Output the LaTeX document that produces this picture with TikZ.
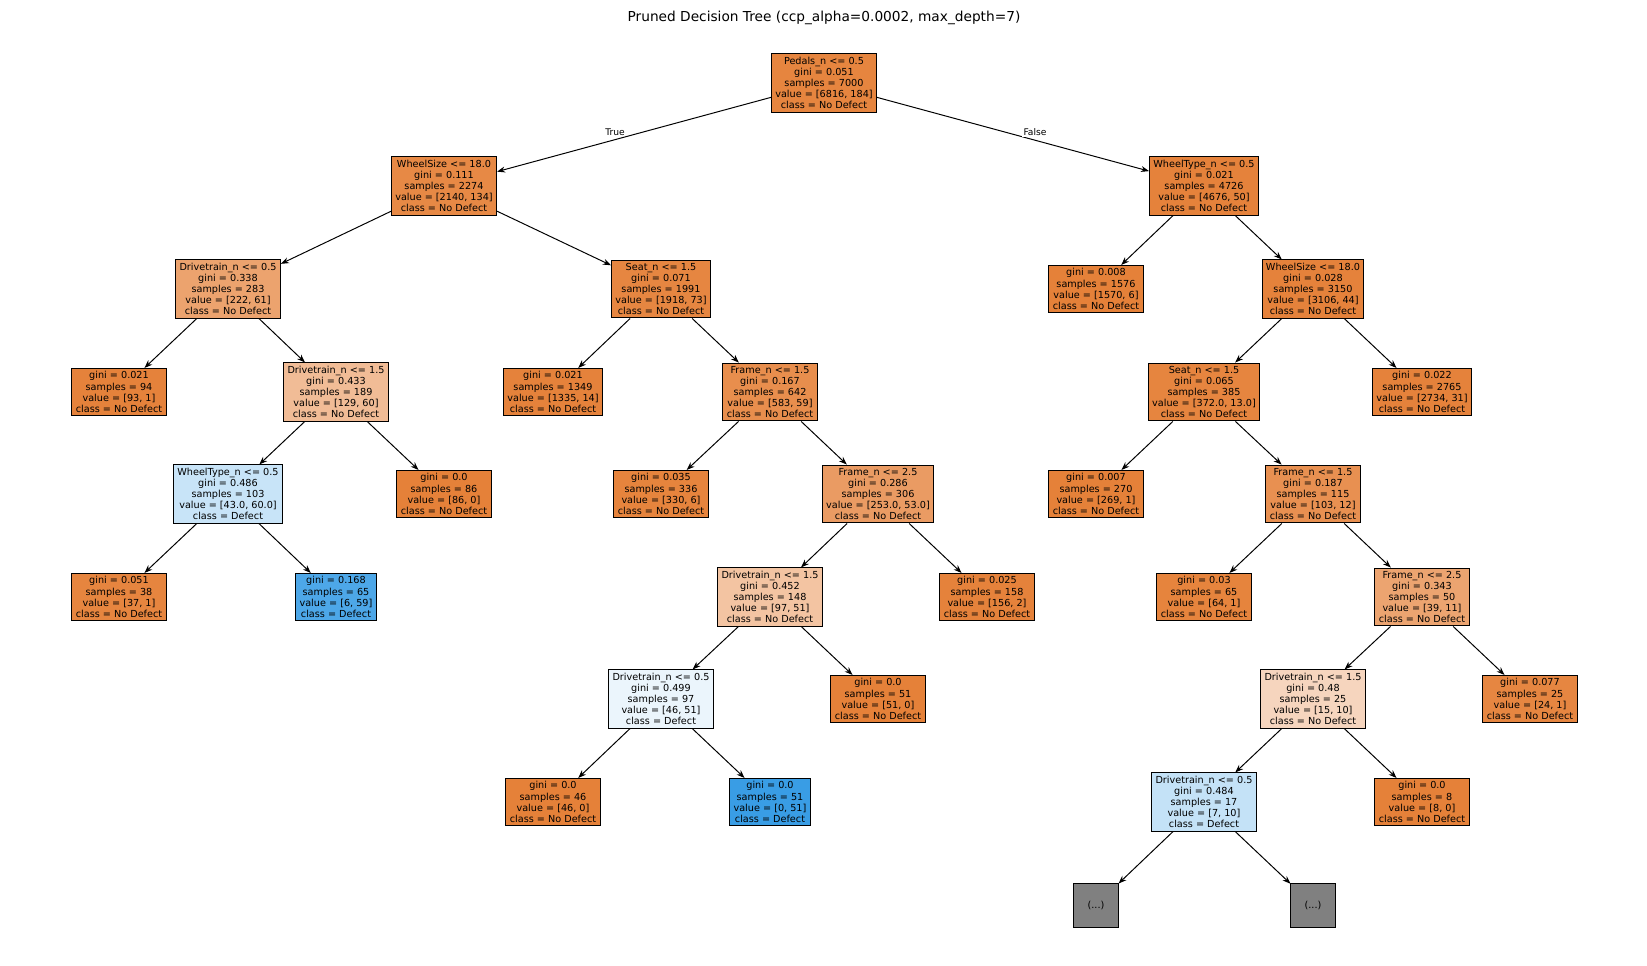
\documentclass[tikz,border=0pt]{standalone}
\usepackage{fontspec}
\setmainfont{DejaVu Sans}
\usetikzlibrary{arrows.meta}
\definecolor{dor}{RGB}{229,129,57}
\definecolor{dbl}{RGB}{57,157,229}
\begin{document}
\begin{tikzpicture}[x=0.01cm,y=-0.01cm,
  box/.style={draw=black,line width=0.28pt,align=center,font=\fontsize{2.75}{3.15}\selectfont,inner xsep=1.1pt,inner ysep=0.9pt},
  O/.style={box,fill=dor!#1!white},
  B/.style={box,fill=dbl!#1!white},
  G/.style={box,fill=black!50,minimum width=43\pgflinewidth,minimum height=0.12cm,text width=0.3cm},
  ed/.style={line width=0.28pt,-{Stealth[length=2.3pt,width=1.7pt]}},
  lab/.style={font=\fontsize{2.6}{3}\selectfont,fill=white,inner sep=0.3pt}]
\useasboundingbox (0,0) rectangle (1647,966);
\node[font=\fontsize{3.9}{4.5}\selectfont] at (824,18) {Pruned Decision Tree (ccp\_alpha=0.0002, max\_depth=7)};
\node[O=97] (r) at (824,83) {Pedals\_n <= 0.5\\gini = 0.051\\samples = 7000\\value = [6816, 184]\\class = No Defect};
\node[O=94] (a) at (444,186) {WheelSize <= 18.0\\gini = 0.111\\samples = 2274\\value = [2140, 134]\\class = No Defect};
\node[O=99] (b) at (1204,186) {WheelType\_n <= 0.5\\gini = 0.021\\samples = 4726\\value = [4676, 50]\\class = No Defect};
\node[O=73] (c) at (228,289) {Drivetrain\_n <= 0.5\\gini = 0.338\\samples = 283\\value = [222, 61]\\class = No Defect};
\node[O=96] (d) at (661,289) {Seat\_n <= 1.5\\gini = 0.071\\samples = 1991\\value = [1918, 73]\\class = No Defect};
\node[O=100] (e) at (1096,289) {gini = 0.008\\samples = 1576\\value = [1570, 6]\\class = No Defect};
\node[O=99] (f) at (1313,289) {WheelSize <= 18.0\\gini = 0.028\\samples = 3150\\value = [3106, 44]\\class = No Defect};
\node[O=99] (c1) at (119,392) {gini = 0.021\\samples = 94\\value = [93, 1]\\class = No Defect};
\node[O=53] (c2) at (336,392) {Drivetrain\_n <= 1.5\\gini = 0.433\\samples = 189\\value = [129, 60]\\class = No Defect};
\node[O=99] (d1) at (553,392) {gini = 0.021\\samples = 1349\\value = [1335, 14]\\class = No Defect};
\node[O=90] (d2) at (770,392) {Frame\_n <= 1.5\\gini = 0.167\\samples = 642\\value = [583, 59]\\class = No Defect};
\node[O=97] (f1) at (1204,392) {Seat\_n <= 1.5\\gini = 0.065\\samples = 385\\value = [372.0, 13.0]\\class = No Defect};
\node[O=99] (f2) at (1422,392) {gini = 0.022\\samples = 2765\\value = [2734, 31]\\class = No Defect};
\node[B=28] (c21) at (228,494) {WheelType\_n <= 0.5\\gini = 0.486\\samples = 103\\value = [43.0, 60.0]\\class = Defect};
\node[O=100] (c22) at (444,494) {gini = 0.0\\samples = 86\\value = [86, 0]\\class = No Defect};
\node[O=98] (d21) at (661,494) {gini = 0.035\\samples = 336\\value = [330, 6]\\class = No Defect};
\node[O=79] (d22) at (878,494) {Frame\_n <= 2.5\\gini = 0.286\\samples = 306\\value = [253.0, 53.0]\\class = No Defect};
\node[O=100] (f11) at (1096,494) {gini = 0.007\\samples = 270\\value = [269, 1]\\class = No Defect};
\node[O=88] (f12) at (1313,494) {Frame\_n <= 1.5\\gini = 0.187\\samples = 115\\value = [103, 12]\\class = No Defect};
\node[O=97] (g1) at (119,597) {gini = 0.051\\samples = 38\\value = [37, 1]\\class = No Defect};
\node[B=90] (g2) at (336,597) {gini = 0.168\\samples = 65\\value = [6, 59]\\class = Defect};
\node[O=47] (h1) at (770,597) {Drivetrain\_n <= 1.5\\gini = 0.452\\samples = 148\\value = [97, 51]\\class = No Defect};
\node[O=99] (h2) at (987,597) {gini = 0.025\\samples = 158\\value = [156, 2]\\class = No Defect};
\node[O=98] (i1) at (1204,597) {gini = 0.03\\samples = 65\\value = [64, 1]\\class = No Defect};
\node[O=72] (i2) at (1422,597) {Frame\_n <= 2.5\\gini = 0.343\\samples = 50\\value = [39, 11]\\class = No Defect};
\node[B=10] (j1) at (661,699) {Drivetrain\_n <= 0.5\\gini = 0.499\\samples = 97\\value = [46, 51]\\class = Defect};
\node[O=100] (j2) at (878,699) {gini = 0.0\\samples = 51\\value = [51, 0]\\class = No Defect};
\node[O=33] (k1) at (1313,699) {Drivetrain\_n <= 1.5\\gini = 0.48\\samples = 25\\value = [15, 10]\\class = No Defect};
\node[O=96] (k2) at (1530,699) {gini = 0.077\\samples = 25\\value = [24, 1]\\class = No Defect};
\node[O=100] (l1) at (553,802) {gini = 0.0\\samples = 46\\value = [46, 0]\\class = No Defect};
\node[B=100] (l2) at (770,802) {gini = 0.0\\samples = 51\\value = [0, 51]\\class = Defect};
\node[B=30] (m1) at (1204,802) {Drivetrain\_n <= 0.5\\gini = 0.484\\samples = 17\\value = [7, 10]\\class = Defect};
\node[O=100] (m2) at (1422,802) {gini = 0.0\\samples = 8\\value = [8, 0]\\class = No Defect};
\node[box,fill=black!50,minimum width=0.44cm,minimum height=0.44cm] (p1) at (1096,905) {(...)};
\node[box,fill=black!50,minimum width=0.44cm,minimum height=0.44cm] (p2) at (1313,905) {(...)};
\foreach \u/\v in {r/a,r/b,a/c,a/d,b/e,b/f,c/c1,c/c2,d/d1,d/d2,f/f1,f/f2,c2/c21,c2/c22,d2/d21,d2/d22,f1/f11,f1/f12,c21/g1,c21/g2,d22/h1,d22/h2,f12/i1,f12/i2,h1/j1,h1/j2,i2/k1,i2/k2,j1/l1,j1/l2,k1/m1,k1/m2,m1/p1,m1/p2}
  \draw[ed] (\u) -- (\v);
\node[lab] at (615,132) {True};
\node[lab] at (1035,132) {False};
\end{tikzpicture}
\end{document}
